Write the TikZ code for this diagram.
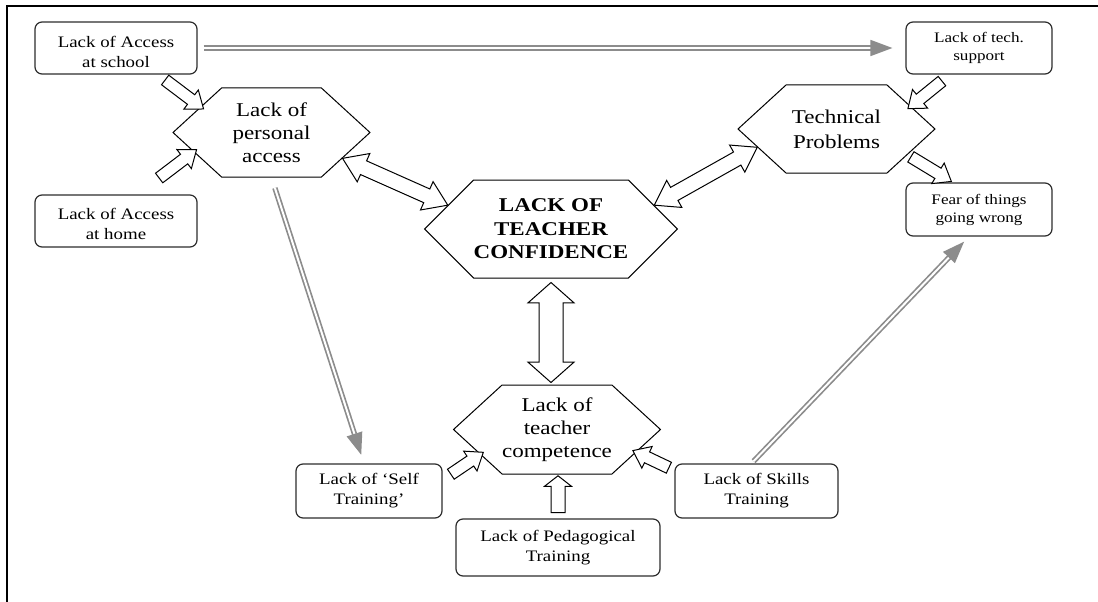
\documentclass[tikz,border=0pt]{standalone}
\usepackage{fontspec}
\setmainfont[FakeStretch=1.18]{Liberation Serif}
\usetikzlibrary{shapes.symbols,shapes.arrows,arrows.meta,calc}

\definecolor{linegray}{RGB}{140,140,140}
\definecolor{boxline}{RGB}{45,45,45}

\tikzset{
    rounded-box/.style = {draw=boxline, fill=white, line width=1.2pt, rectangle, rounded corners=7pt, align=center, inner sep=2pt, font=\fontsize{16}{20}\selectfont},
    small-box/.style = {rounded-box, font=\fontsize{14.5}{18}\selectfont},
    hex-box/.style = {signal, signal to=east and west, signal pointer angle=85, draw, fill=white, line width=1pt, inner sep=0pt, align=center, font=\fontsize{19.5}{23}\selectfont},
    fat/.style = {single arrow, draw, fill=white, line width=1pt, inner xsep=0pt, inner ysep=5.5pt, single arrow head extend=6pt, single arrow tip angle=75},
    fat-up/.style = {fat, inner ysep=6.5pt, single arrow head extend=6.5pt, single arrow tip angle=104},
    fat-both/.style = {double arrow, draw, fill=white, line width=1pt, inner xsep=0pt, inner ysep=7pt, double arrow head extend=8pt, double arrow tip angle=68},
    fat-big/.style = {fat-both, inner ysep=11.5pt, double arrow head extend=11pt, double arrow tip angle=97},
    gray-link/.style = {draw=linegray, double=white, double distance=2pt, line width=1.7pt, -{Triangle[length=22pt, width=16pt]}},
}

% hollow block arrow between two points
\newcommand\fatlink[3][fat]{%
  \path let \p1=#2, \p2=#3, \n1={atan2(\y2-\y1,\x2-\x1)}, \n2={veclen(\x2-\x1,\y2-\y1)} in
    node[#1, minimum height=\n2, rotate=\n1] at ($(\p1)!0.5!(\p2)$) {};}

\begin{document}
\begin{tikzpicture}[x=1pt, y=-1pt]
\useasboundingbox (0,0) rectangle (1098,602);
\draw[line width=2pt] (7,602) -- (7,6) -- (1098,6);

\node[rounded-box, minimum width=162pt, minimum height=52pt] (school) at (116,48) {\rule{0pt}{19pt}Lack of Access\\at school};
\node[rounded-box, minimum width=162pt, minimum height=52pt] (home) at (116,221) {\rule{0pt}{18pt}Lack of Access\\at home};
\node[small-box, minimum width=146pt, minimum height=52pt] (support) at (979,48) {Lack of tech.\\support};
\node[small-box, minimum width=146pt, minimum height=53pt] (fear) at (979,209.5) {Fear of things\\going wrong};
\node[rounded-box, minimum width=146pt, minimum height=54pt] (self) at (369,491) {Lack of ‘Self\\Training’};
\node[rounded-box, minimum width=204pt, minimum height=57pt] (peda) at (558,547.5) {Lack of Pedagogical\\Training};
\node[rounded-box, minimum width=163pt, minimum height=54pt] (skills) at (756.5,491) {Lack of Skills\\Training};

\node[hex-box, minimum width=197pt, minimum height=89pt] (pacc) at (271.5,132.5) {Lack of\\personal\\access};
\node[hex-box, minimum width=197pt, minimum height=88pt, font=\fontsize{19.5}{25}\selectfont] (tech) at (836.5,129) {Technical\\Problems};
\node[hex-box, minimum width=252pt, minimum height=98pt, signal pointer angle=90, font=\fontsize{19.5}{23.5}\selectfont\bfseries] (conf) at (551,229) {LACK OF\\TEACHER\\CONFIDENCE};
\node[hex-box, minimum width=197pt, minimum height=89pt] (comp) at (557,429.5) {Lack of\\teacher\\competence};

\draw[gray-link, shorten <=6pt, shorten >=13pt] (school) -- (support);
\draw[gray-link, shorten <=11pt, shorten >=9pt] (pacc.south) -- ([xshift=-5pt]self.north);
\draw[gray-link, shorten <=3pt, shorten >=7pt] ([xshift=-5pt]skills.north) -- ([xshift=-10pt]fear.south);

\fatlink{([xshift=46pt,yshift=-3pt]school.south)}{(pacc.160)}
\fatlink{([xshift=40pt,yshift=14pt]home.north)}{(pacc.194)}
\fatlink[fat-both]{(pacc.-20)}{(conf.167)}
\fatlink[fat-both]{(conf.13)}{(tech.193)}
\fatlink{([xshift=-34pt,yshift=-4pt]support.south)}{(tech.17)}
\fatlink{(tech.-20)}{([xshift=-31pt,yshift=3pt]fear.north)}
\fatlink[fat-big]{([yshift=-4pt]conf.south)}{([yshift=2pt]conf.south |- comp.north)}
\fatlink{([xshift=5pt,yshift=-13pt]self.north east)}{(comp.198)}
\fatlink[fat-up]{([yshift=3pt]peda.north)}{([yshift=-4pt]peda.north |- comp.south)}
\fatlink{([xshift=-2pt,yshift=-6pt]skills.north west)}{(comp.-16)}
\end{tikzpicture}
\end{document}
